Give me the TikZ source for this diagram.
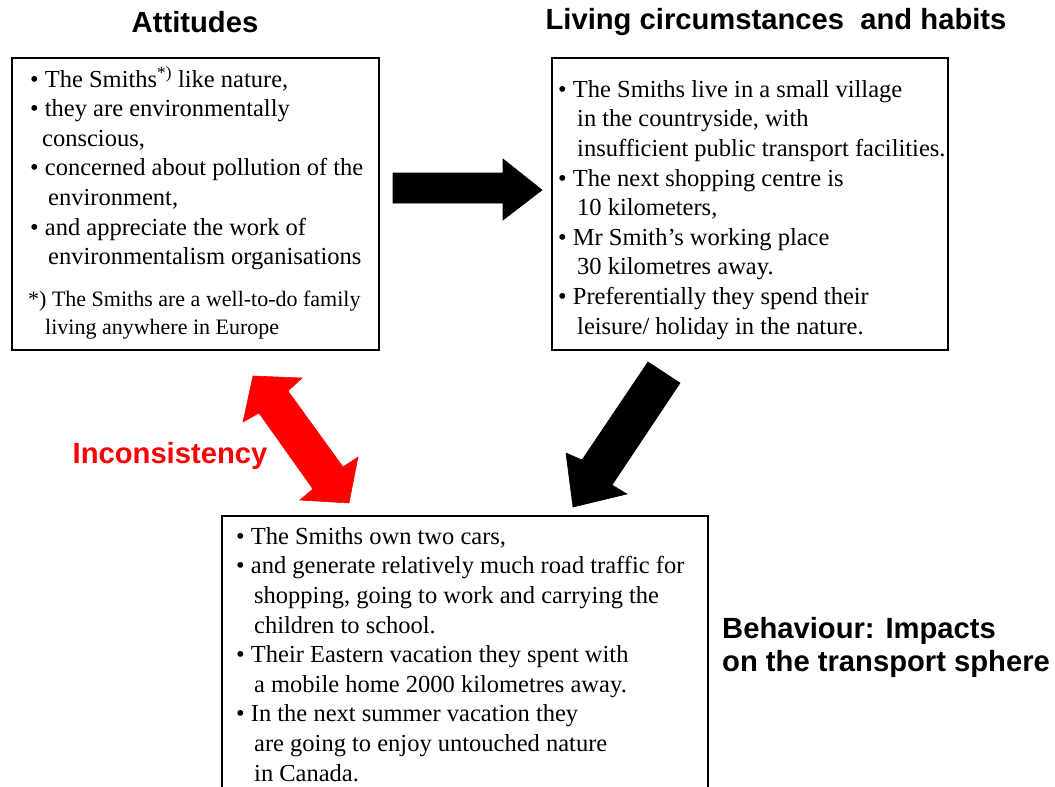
\documentclass[tikz,border=0pt]{standalone}
\usepackage{fontspec}
\setmainfont{Liberation Serif}
\newfontfamily\headfont{Liberation Sans}
\begin{document}
\begin{tikzpicture}[x=1pt,y=-1pt,
  box/.style={draw, line width=2pt, anchor=north west, inner sep=0pt},
  body/.style={anchor=north west, inner sep=0pt, align=left, font=\fontsize{24.5}{29.6}\selectfont},
  note/.style={anchor=north west, inner sep=0pt, align=left, font=\fontsize{22}{28}\selectfont},
  head/.style={inner sep=0pt, font=\headfont\bfseries\fontsize{29.2}{33}\selectfont},
  blockarrow/.style={fill=black, draw=black, line width=0.6pt, line join=miter},
  incarrow/.style={fill=red, draw=red, line width=0.6pt, line join=miter}]
\useasboundingbox (0,0) rectangle (1055,787);

% boxes
\node[box, minimum width=367pt, minimum height=292pt] (att) at (11,57) {};
\node[box, minimum width=396pt, minimum height=292pt] (liv) at (551,57) {};
\node[box, minimum width=486pt, minimum height=300pt] (beh) at (221,515) {};

% headings
\node[head] (hatt) at (195,22) {Attitudes};
\node[head] (hliv) at (776,22) {Living circumstances\ \ and habits};
\node[head, anchor=west, align=left] (hbeh) at (722,647) {Behaviour: Impacts\\on the transport sphere};
\node[head, text=red] (hinc) at (170,456) {Inconsistency};

% texts
\node[body] (tatt) at (30,66) {%
• The Smiths\textsuperscript{*)} like nature,\\
• they are environmentally\\
\hspace*{12pt}conscious,\\
• concerned about pollution of the\\
\hspace*{18pt}environment,\\
• and appreciate the work of\\
\hspace*{18pt}environmentalism organisations};
\node[note] (natt) at (28,291) {%
*) The Smiths are a well-to-do family\\
\hspace*{17pt}living anywhere in Europe};

\node[body] (tliv) at (558,80) {%
• The Smiths live in a small village\\
\hspace*{19pt}in the countryside, with\\
\hspace*{19pt}insufficient public transport facilities.\\
• The next shopping centre is\\
\hspace*{19pt}10 kilometers,\\
• Mr Smith’s working place\\
\hspace*{19pt}30 kilometres away.\\
• Preferentially they spend their\\
\hspace*{19pt}leisure/ holiday in the nature.};

\node[body] (tbeh) at (236,527) {%
• The Smiths own two cars,\\
• and generate relatively much road traffic for\\
\hspace*{18pt}shopping, going to work and carrying the\\
\hspace*{18pt}children to school.\\
• Their Eastern vacation they spent with\\
\hspace*{18pt}a mobile home 2000 kilometres away.\\
• In the next summer vacation they\\
\hspace*{18pt}are going to enjoy untouched nature\\
\hspace*{18pt}in Canada.};

% block arrows
\draw[blockarrow] (393,173) -- (503,173) -- (503,159) -- (542,190) -- (503,220) -- (503,203) -- (393,203) -- cycle;
\draw[blockarrow] (648,362) -- (680,383) -- (612,485) -- (627,494) -- (573,507) -- (566,453) -- (582,460) -- cycle;
\draw[incarrow] (253,376) -- (302,378) -- (288,391) -- (343,467) -- (358,457) -- (349,503) -- (300,500) -- (313,489) -- (259,413) -- (243,422) -- cycle;
\end{tikzpicture}
\end{document}
